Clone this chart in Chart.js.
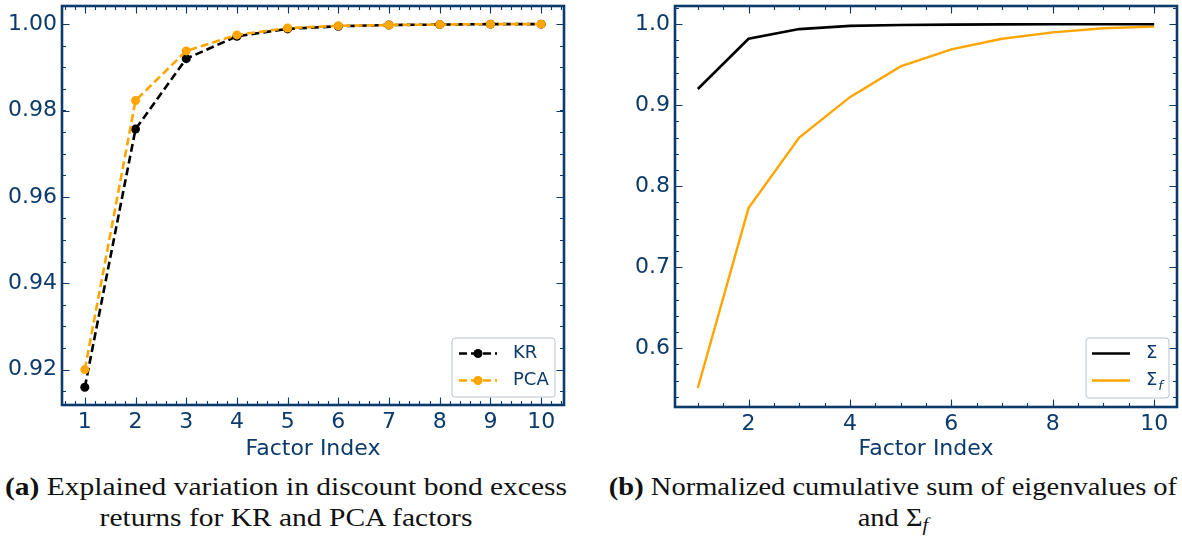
<!DOCTYPE html>
<html>
<head>
<meta charset="utf-8">
<script src="https://cdn.jsdelivr.net/npm/chart.js@4.4.0/dist/chart.umd.min.js"></script>
<style>
  html, body { margin: 0; padding: 0; background: #fff; }
  #wrap { position: relative; width: 1182px; height: 536px; overflow: hidden; }
  canvas { position: absolute; top: 0; }
  #chartA { left: 0; }
  #chartB { left: 600px; }
  .cap {
    position: absolute; top: 471px;
    font-family: "Liberation Serif", "Times New Roman", serif;
    font-size: 25px; line-height: 31px; color: #111;
    text-align: center; white-space: nowrap;
    transform-origin: center center;
  }
  .cap sub { font-size: 18px; vertical-align: -5px; line-height: 0; }
</style>
</head>
<body>
<div id="wrap">
  <canvas id="chartA" width="600" height="470"></canvas>
  <canvas id="chartB" width="582" height="470"></canvas>
  <div class="cap" style="left:0; width:572px; transform: scaleX(1.18);"><b>(a)</b> Explained variation in discount bond excess<br>returns for KR and PCA factors</div>
  <div class="cap" style="left:600px; width:586px; transform: scaleX(1.14);"><b>(b)</b> Normalized cumulative sum of eigenvalues of<br>and Σ<sub><i>f</i></sub></div>
</div>
<script>
// data
const factors = [1, 2, 3, 4, 5, 6, 7, 8, 9, 10];
const krExplained = [0.9159, 0.9757, 0.9920, 0.9972, 0.9989, 0.9995, 0.9998, 0.9999, 1.0000, 1.0000];
const pcaExplained = [0.9200, 0.9823, 0.9938, 0.9975, 0.9991, 0.9996, 0.9998, 0.9999, 1.0000, 1.0000];
const sigmaCum = [0.920, 0.982, 0.994, 0.998, 0.999, 0.9995, 0.9998, 0.9999, 1.000, 1.000];
const sigmaFCum = [0.551, 0.773, 0.860, 0.910, 0.948, 0.969, 0.982, 0.990, 0.995, 0.997];

// ticks
const xTicksA = [1, 2, 3, 4, 5, 6, 7, 8, 9, 10];
const yTicksA = [0.92, 0.94, 0.96, 0.98, 1.00];
const xTicksB = [2, 4, 6, 8, 10];
const yTicksB = [0.6, 0.7, 0.8, 0.9, 1.0];

const AXIS = '#0b3a6b';
const ORANGE = '#ffa500';
const FONT = 'DejaVu Sans';

const toPts = ys => factors.map((f, i) => ({ x: f, y: ys[i] }));

// inward ticks on all four sides + frame
const frameTicks = {
  id: 'frameTicks',
  afterDatasetsDraw(chart, args, opts) {
    const { ctx, chartArea: a, scales: { x, y } } = chart;
    ctx.save();
    ctx.strokeStyle = AXIS;
    ctx.lineWidth = 1.1;
    const xTick = (v, len) => {
      const px = Math.round(x.getPixelForValue(v)) + 0.5;
      ctx.beginPath();
      ctx.moveTo(px, a.bottom); ctx.lineTo(px, a.bottom - len);
      ctx.moveTo(px, a.top); ctx.lineTo(px, a.top + len);
      ctx.stroke();
    };
    const yTick = (v, len) => {
      const py = Math.round(y.getPixelForValue(v)) + 0.5;
      ctx.beginPath();
      ctx.moveTo(a.left, py); ctx.lineTo(a.left + len, py);
      ctx.moveTo(a.right, py); ctx.lineTo(a.right - len, py);
      ctx.stroke();
    };
    for (let v = Math.ceil(x.min / opts.xMinor) * opts.xMinor; v <= x.max; v += opts.xMinor) xTick(v, 4);
    for (let v = Math.ceil(y.min / opts.yMinor) * opts.yMinor; v <= y.max; v += opts.yMinor) yTick(v, 4);
    x.ticks.forEach(t => xTick(t.value, 7.5));
    y.ticks.forEach(t => yTick(t.value, 7.5));
    ctx.lineWidth = 2.6;
    ctx.strokeRect(a.left, a.top, a.right - a.left, a.bottom - a.top);
    ctx.restore();
  }
};

// matplotlib style legend box in lower right
const boxLegend = {
  id: 'boxLegend',
  afterDraw(chart, args, opts) {
    const { ctx, chartArea: a } = chart;
    const bx = a.right - opts.right - opts.w, by = a.bottom - opts.bottom - opts.h;
    ctx.save();
    ctx.beginPath();
    ctx.roundRect(bx, by, opts.w, opts.h, 3);
    ctx.fillStyle = 'rgba(255,255,255,0.85)';
    ctx.fill();
    ctx.strokeStyle = '#b9c3cf';
    ctx.lineWidth = 1;
    ctx.stroke();
    opts.items.forEach((it, i) => {
      const ly = by + 15.5 + i * 27;
      const lx = bx + opts.lineStart;
      ctx.strokeStyle = it.color;
      ctx.lineWidth = it.width;
      ctx.setLineDash(it.dash || []);
      ctx.beginPath();
      ctx.moveTo(lx, ly); ctx.lineTo(lx + 38, ly);
      ctx.stroke();
      ctx.setLineDash([]);
      if (it.marker) {
        ctx.fillStyle = it.color;
        ctx.beginPath();
        ctx.arc(lx + 19, ly, 4.5, 0, Math.PI * 2);
        ctx.fill();
      }
      ctx.fillStyle = AXIS;
      ctx.textBaseline = 'middle';
      ctx.font = `18px "${FONT}"`;
      const tx = bx + opts.textStart;
      ctx.fillText(it.label, tx, ly);
      if (it.sub) {
        const w = ctx.measureText(it.label).width;
        ctx.font = `italic 13px "${FONT}"`;
        ctx.fillText(it.sub, tx + w + 1, ly + 6);
      }
    });
    ctx.restore();
  }
};

function fixY(width) {
  return s => { s.width = width; s.paddingTop = 0; s.paddingBottom = 0; };
}
function fixX(height) {
  return s => { s.height = height; s.paddingLeft = 0; s.paddingRight = 0; };
}

function scales(cfg) {
  return {
    x: {
      type: 'linear', min: 0.55, max: 10.45,
      afterBuildTicks: s => { s.ticks = cfg.xTicks.map(v => ({ value: v })); },
      afterFit: fixX(cfg.xHeight),
      grid: { display: false, drawTicks: false },
      border: { display: false },
      ticks: { color: AXIS, font: { family: FONT, size: 22 }, padding: 4, maxRotation: 0, autoSkip: false },
      title: { display: true, text: 'Factor Index', color: AXIS, font: { family: FONT, size: 22 }, padding: { top: 0, bottom: 8 } }
    },
    y: {
      type: 'linear', min: cfg.yMin, max: cfg.yMax,
      afterBuildTicks: s => { s.ticks = cfg.yTicks.map(v => ({ value: v })); },
      afterFit: fixY(cfg.yWidth),
      grid: { display: false, drawTicks: false },
      border: { display: false },
      ticks: { color: AXIS, font: { family: FONT, size: 22 }, padding: 5, autoSkip: false,
        callback: v => v.toFixed(cfg.decimals) }
    }
  };
}

new Chart(document.getElementById('chartA'), {
  type: 'line',
  data: {
    datasets: [
      { label: 'PCA', data: toPts(pcaExplained), order: 0, borderColor: ORANGE, backgroundColor: ORANGE,
        borderWidth: 2.6, borderDash: [8, 4], pointRadius: 4.5, pointBorderWidth: 0, tension: 0 },
      { label: 'KR', data: toPts(krExplained), order: 1, borderColor: '#000', backgroundColor: '#000',
        borderWidth: 2.6, borderDash: [8, 4], pointRadius: 4.5, pointBorderWidth: 0, tension: 0 }
    ]
  },
  options: {
    responsive: false, animation: false, devicePixelRatio: 1,
    layout: { padding: { top: 6, right: 36, left: 0, bottom: 0 } },
    scales: scales({ xTicks: xTicksA, yTicks: yTicksA, yMin: 0.9118, yMax: 1.0042, decimals: 2, yWidth: 62, xHeight: 65 }),
    plugins: {
      legend: { display: false }, tooltip: { enabled: false },
      frameTicks: { xMinor: 0.2, yMinor: 0.005 },
      boxLegend: { w: 103, h: 59, right: 9, bottom: 8, lineStart: 7, textStart: 61,
        items: [
          { label: 'KR', color: '#000', width: 2.6, dash: [8, 4], marker: true },
          { label: 'PCA', color: ORANGE, width: 2.6, dash: [8, 4], marker: true }
        ] }
    }
  },
  plugins: [frameTicks, boxLegend]
});

new Chart(document.getElementById('chartB'), {
  type: 'line',
  data: {
    datasets: [
      { label: 'Σ', data: toPts(sigmaCum), order: 0, borderColor: '#000', borderWidth: 2.6, pointRadius: 0, tension: 0 },
      { label: 'Σf', data: toPts(sigmaFCum), order: 1, borderColor: ORANGE, borderWidth: 2.4, pointRadius: 0, tension: 0 }
    ]
  },
  options: {
    responsive: false, animation: false, devicePixelRatio: 1,
    layout: { padding: { top: 6, right: 5, left: 0, bottom: 0 } },
    scales: scales({ xTicks: xTicksB, yTicks: yTicksB, yMin: 0.5275, yMax: 1.0225, decimals: 1, yWidth: 75, xHeight: 63 }),
    plugins: {
      legend: { display: false }, tooltip: { enabled: false },
      frameTicks: { xMinor: 0.5, yMinor: 0.02 },
      boxLegend: { w: 83, h: 60, right: 8, bottom: 9, lineStart: 6, textStart: 60,
        items: [
          { label: 'Σ', color: '#000', width: 2.6 },
          { label: 'Σ', sub: 'f', color: ORANGE, width: 2.4 }
        ] }
    }
  },
  plugins: [frameTicks, boxLegend]
});
</script>
</body>
</html>
